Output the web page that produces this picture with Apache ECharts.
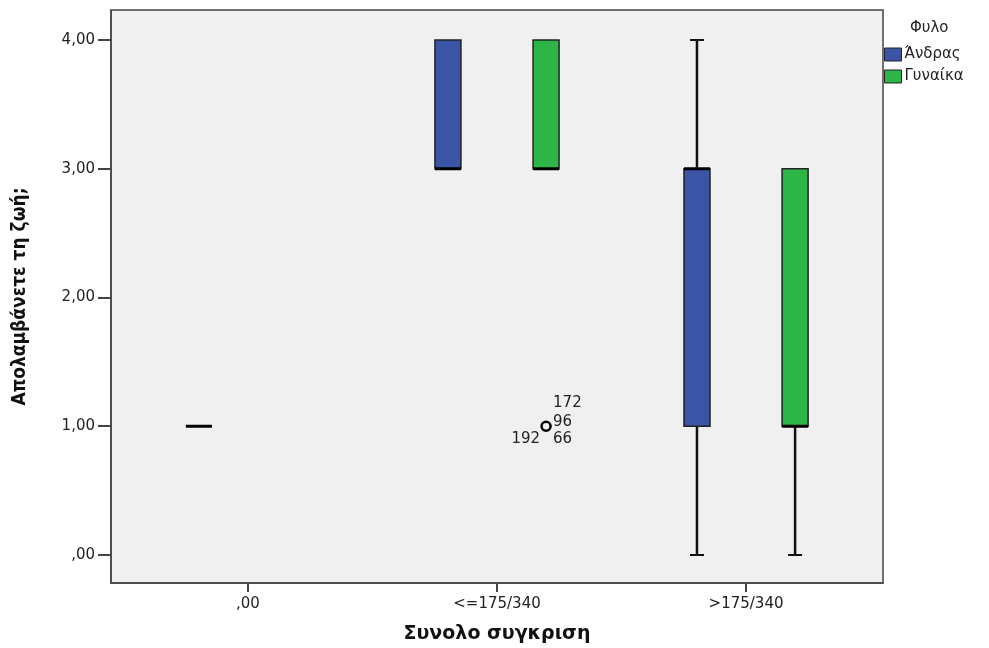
<!DOCTYPE html>
<html>
<head>
<meta charset="utf-8">
<script src="https://cdn.jsdelivr.net/npm/echarts@6/dist/echarts.min.js"></script>
<style>html,body{margin:0;padding:0;background:#fff}#c{width:989px;height:648px}</style>
</head>
<body>
<div id="c"></div>
<script>
// ---- data ----
const categories = [',00', '<=175/340', '>175/340'];
const groupNames = ['Άνδρας', 'Γυναίκα'];
const yTicks = [0, 1, 2, 3, 4];
// [min, q1, median, q3, max] per category (null = no data)
const maleStats = [[1, 1, 1, 1, 1], [3, 3, 3, 4, 4], [0, 1, 3, 3, 4]];
const femaleStats = [null, [3, 3, 3, 4, 4], [0, 1, 1, 3, 3]];
// outliers: [categoryIndex, value]
const femaleOutliers = [[1, 1]];
const femaleOutlierCases = [['172', '96', '192', '66']];

const colors = ['#3C54A5', '#2DB548'];
const offsets = [-0.197, 0.197];

function toData(stats) {
  const out = [];
  stats.forEach((s, i) => { if (s) out.push([i].concat(s)); });
  return out;
}

function boxRender(offset) {
  return function (params, api) {
    const ci = api.value(0);
    const vals = [1, 2, 3, 4, 5].map(k => api.value(k));
    const xc = api.coord([ci + offset, 0])[0];
    const y = v => api.coord([ci + offset, v])[1];
    const hw = 13, cap = 7;
    const [mn, q1, md, q3, mx] = vals;
    const color = api.visual('color');
    const children = [];
    if (mx > q3) {
      children.push({ type: 'line', shape: { x1: xc, y1: y(q3), x2: xc, y2: y(mx) }, style: { stroke: '#111', lineWidth: 2.5 } });
      children.push({ type: 'line', shape: { x1: xc - cap, y1: y(mx), x2: xc + cap, y2: y(mx) }, style: { stroke: '#111', lineWidth: 2 } });
    }
    if (mn < q1) {
      children.push({ type: 'line', shape: { x1: xc, y1: y(q1), x2: xc, y2: y(mn) }, style: { stroke: '#111', lineWidth: 2.5 } });
      children.push({ type: 'line', shape: { x1: xc - cap, y1: y(mn), x2: xc + cap, y2: y(mn) }, style: { stroke: '#111', lineWidth: 2 } });
    }
    children.push({ type: 'rect', shape: { x: xc - hw, y: y(q3), width: hw * 2, height: y(q1) - y(q3) }, style: { fill: color, stroke: '#222', lineWidth: 1.5 } });
    children.push({ type: 'line', shape: { x1: xc - hw, y1: y(md), x2: xc + hw, y2: y(md) }, style: { stroke: '#000', lineWidth: 3 } });
    return { type: 'group', children };
  };
}

function outlierRender(offset, cases) {
  return function (params, api) {
    const ci = api.value(0);
    const p = api.coord([ci + offset, api.value(1)]);
    const labs = cases[params.dataIndex];
    const font = '15px "DejaVu Sans", sans-serif';
    const children = [
      { type: 'circle', shape: { cx: p[0], cy: p[1], r: 4.5 }, style: { fill: 'none', stroke: '#000', lineWidth: 2.5 } },
      { type: 'text', x: p[0] + 7, y: p[1] - 23, style: { text: labs[0], font, fill: '#222', align: 'left', verticalAlign: 'middle' } },
      { type: 'text', x: p[0] + 7, y: p[1] - 4, style: { text: labs[1], font, fill: '#222', align: 'left', verticalAlign: 'middle' } },
      { type: 'text', x: p[0] - 6, y: p[1] + 13, style: { text: labs[2], font, fill: '#222', align: 'right', verticalAlign: 'middle' } },
      { type: 'text', x: p[0] + 7, y: p[1] + 13, style: { text: labs[3], font, fill: '#222', align: 'left', verticalAlign: 'middle' } }
    ];
    return { type: 'group', children };
  };
}

const chart = echarts.init(document.getElementById('c'), null, { renderer: 'canvas' });
const labelFont = { fontFamily: '"DejaVu Sans", sans-serif', fontSize: 15, color: '#222' };

chart.setOption({
  animation: false,
  backgroundColor: '#fff',
  title: {
    text: 'Φυλο', left: 910, top: 21, padding: 0,
    textStyle: { fontFamily: '"DejaVu Sans", sans-serif', fontSize: 15, fontWeight: 'normal', color: '#222' }
  },
  legend: {
    data: groupNames, orient: 'vertical', left: 884, top: 47, padding: 0,
    itemWidth: 17, itemHeight: 13, itemGap: 7, icon: 'rect',
    itemStyle: { borderColor: '#222', borderWidth: 1 },
    textStyle: { fontFamily: '"DejaVu Sans", sans-serif', fontSize: 15, color: '#222', padding: [0, 0, 0, -2] }
  },
  grid: {
    left: 111, right: 106, top: 10, bottom: 65, outerBoundsMode: 'none', containLabel: false,
    show: true, backgroundColor: '#F0F0F0', borderColor: '#444', borderWidth: 1.5
  },
  xAxis: {
    type: 'value', min: -0.55, max: 2.55,
    name: 'Συνολο συγκριση', nameLocation: 'middle', nameGap: 42,
    nameTextStyle: { fontFamily: '"DejaVu Sans", sans-serif', fontSize: 19, fontWeight: 'bold', color: '#111' },
    axisLine: { show: true, onZero: false, lineStyle: { color: '#444', width: 1.5 } },
    axisTick: { show: true, length: 9, customValues: [0, 1, 2], lineStyle: { color: '#444', width: 2 } },
    axisLabel: { customValues: [0, 1, 2], margin: 14, formatter: v => categories[Math.round(v)], ...labelFont },
    splitLine: { show: false }
  },
  yAxis: {
    type: 'value', min: -0.2175, max: 4.233,
    name: 'Απολαμβάνετε τη ζωή;', nameLocation: 'middle', nameGap: 81, nameRotate: 90,
    nameTextStyle: { fontFamily: '"Liberation Sans Narrow", "DejaVu Sans Condensed", sans-serif', fontSize: 19, fontWeight: 'bold', color: '#111' },
    axisLine: { show: true, onZero: false, lineStyle: { color: '#444', width: 1.5 } },
    axisTick: { show: true, length: 13, customValues: yTicks, lineStyle: { color: '#444', width: 2 } },
    axisLabel: { customValues: yTicks, margin: 16, formatter: v => (v === 0 ? ',00' : v + ',00'), ...labelFont },
    splitLine: { show: false }
  },
  series: [
    {
      name: groupNames[0], type: 'custom', renderItem: boxRender(offsets[0]),
      itemStyle: { color: colors[0] }, data: toData(maleStats), encode: { x: 0, y: [1, 2, 3, 4, 5] }, z: 3
    },
    {
      name: groupNames[1], type: 'custom', renderItem: boxRender(offsets[1]),
      itemStyle: { color: colors[1] }, data: toData(femaleStats), encode: { x: 0, y: [1, 2, 3, 4, 5] }, z: 3
    },
    {
      name: 'outliers', type: 'custom', renderItem: outlierRender(offsets[1], femaleOutlierCases),
      itemStyle: { color: '#000' }, data: femaleOutliers, encode: { x: 0, y: 1 }, z: 4
    }
  ]
});
</script>
</body>
</html>
